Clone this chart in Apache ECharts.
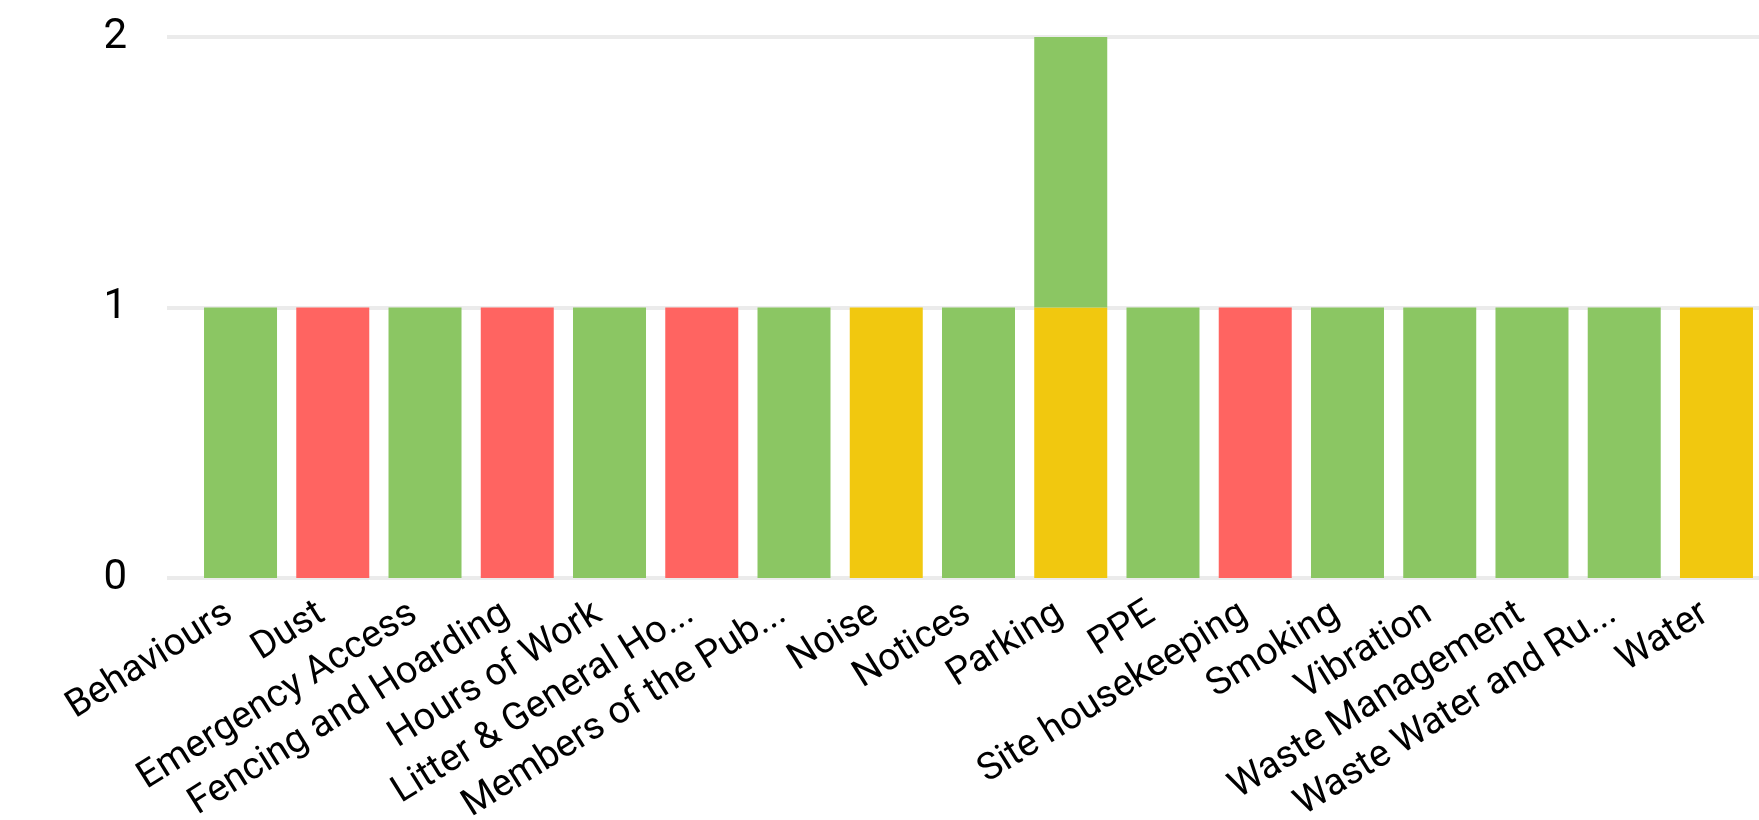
<!DOCTYPE html>
<html>
<head>
<meta charset="utf-8">
<script src="https://cdn.jsdelivr.net/npm/echarts@6/dist/echarts.min.js"></script>
<style>
html,body{margin:0;padding:0;background:#fff;}
#chart{width:1759px;height:820px;}
</style>
</head>
<body>
<div id="chart"></div>
<script>
const categories = ["Behaviours","Dust","Emergency Access","Fencing and Hoarding","Hours of Work","Litter & General Housekeeping","Members of the Public","Noise","Notices","Parking","PPE","Site housekeeping","Smoking","Vibration","Waste Management","Waste Water and Run-off","Water"];
const tickLabels = ["Behaviours","Dust","Emergency Access","Fencing and Hoarding","Hours of Work","Litter & General Ho...","Members of the Pub...","Noise","Notices","Parking","PPE","Site housekeeping","Smoking","Vibration","Waste Management","Waste Water and Ru...","Water"];
const yellowValues = [null,null,null,null,null,null,null,1,null,1,null,null,null,null,null,null,1];
const redValues    = [null,1,null,1,null,1,null,null,null,null,null,1,null,null,null,null,null];
const greenValues  = [1,null,1,null,1,null,1,null,1,1,1,null,1,1,1,1,null];
const yTicks = [0,1,2];

const chart = echarts.init(document.getElementById('chart'), null, {renderer:'canvas'});
const FONT = 'Roboto';
const mk = (name, data, color) => ({
  name, type:'bar', stack:'total', data, xAxisIndex:0, yAxisIndex:0,
  itemStyle:{color}, barWidth:73, emphasis:{disabled:true}, z:3
});
const yMin = yTicks[0], yMax = yTicks[yTicks.length-1];
chart.setOption({
  animation:false,
  backgroundColor:'#fff',
  grid:[
    {left:194.4, right:-3.6, top:37, bottom:242, containLabel:false, outerBoundsMode:'none'},
    {left:167, right:0, top:37, bottom:242, containLabel:false, outerBoundsMode:'none'}
  ],
  xAxis:[
    {
      type:'category', data:categories, gridIndex:0,
      axisLine:{show:false}, axisTick:{show:false},
      axisLabel:{rotate:32, interval:0, color:'#000', fontFamily:FONT, fontSize:38, margin:26,
        padding:[0,13,0,0], formatter:(v, i) => tickLabels[i]}
    },
    {type:'value', gridIndex:1, show:false, min:0, max:1}
  ],
  yAxis:[
    {type:'value', gridIndex:0, min:yMin, max:yMax, interval:1, show:false, splitLine:{show:false}},
    {
      type:'value', gridIndex:1, min:yMin, max:yMax, interval:1,
      axisLine:{show:false}, axisTick:{show:false},
      axisLabel:{color:'#000', fontFamily:FONT, fontSize:42, margin:40},
      splitLine:{lineStyle:{color:'#ebebeb', width:4}}
    }
  ],
  series:[
    mk('Yellow', yellowValues, '#F1C80F'),
    mk('Red', redValues, '#FF6461'),
    mk('Green', greenValues, '#8BC663')
  ]
});
</script>
</body>
</html>
